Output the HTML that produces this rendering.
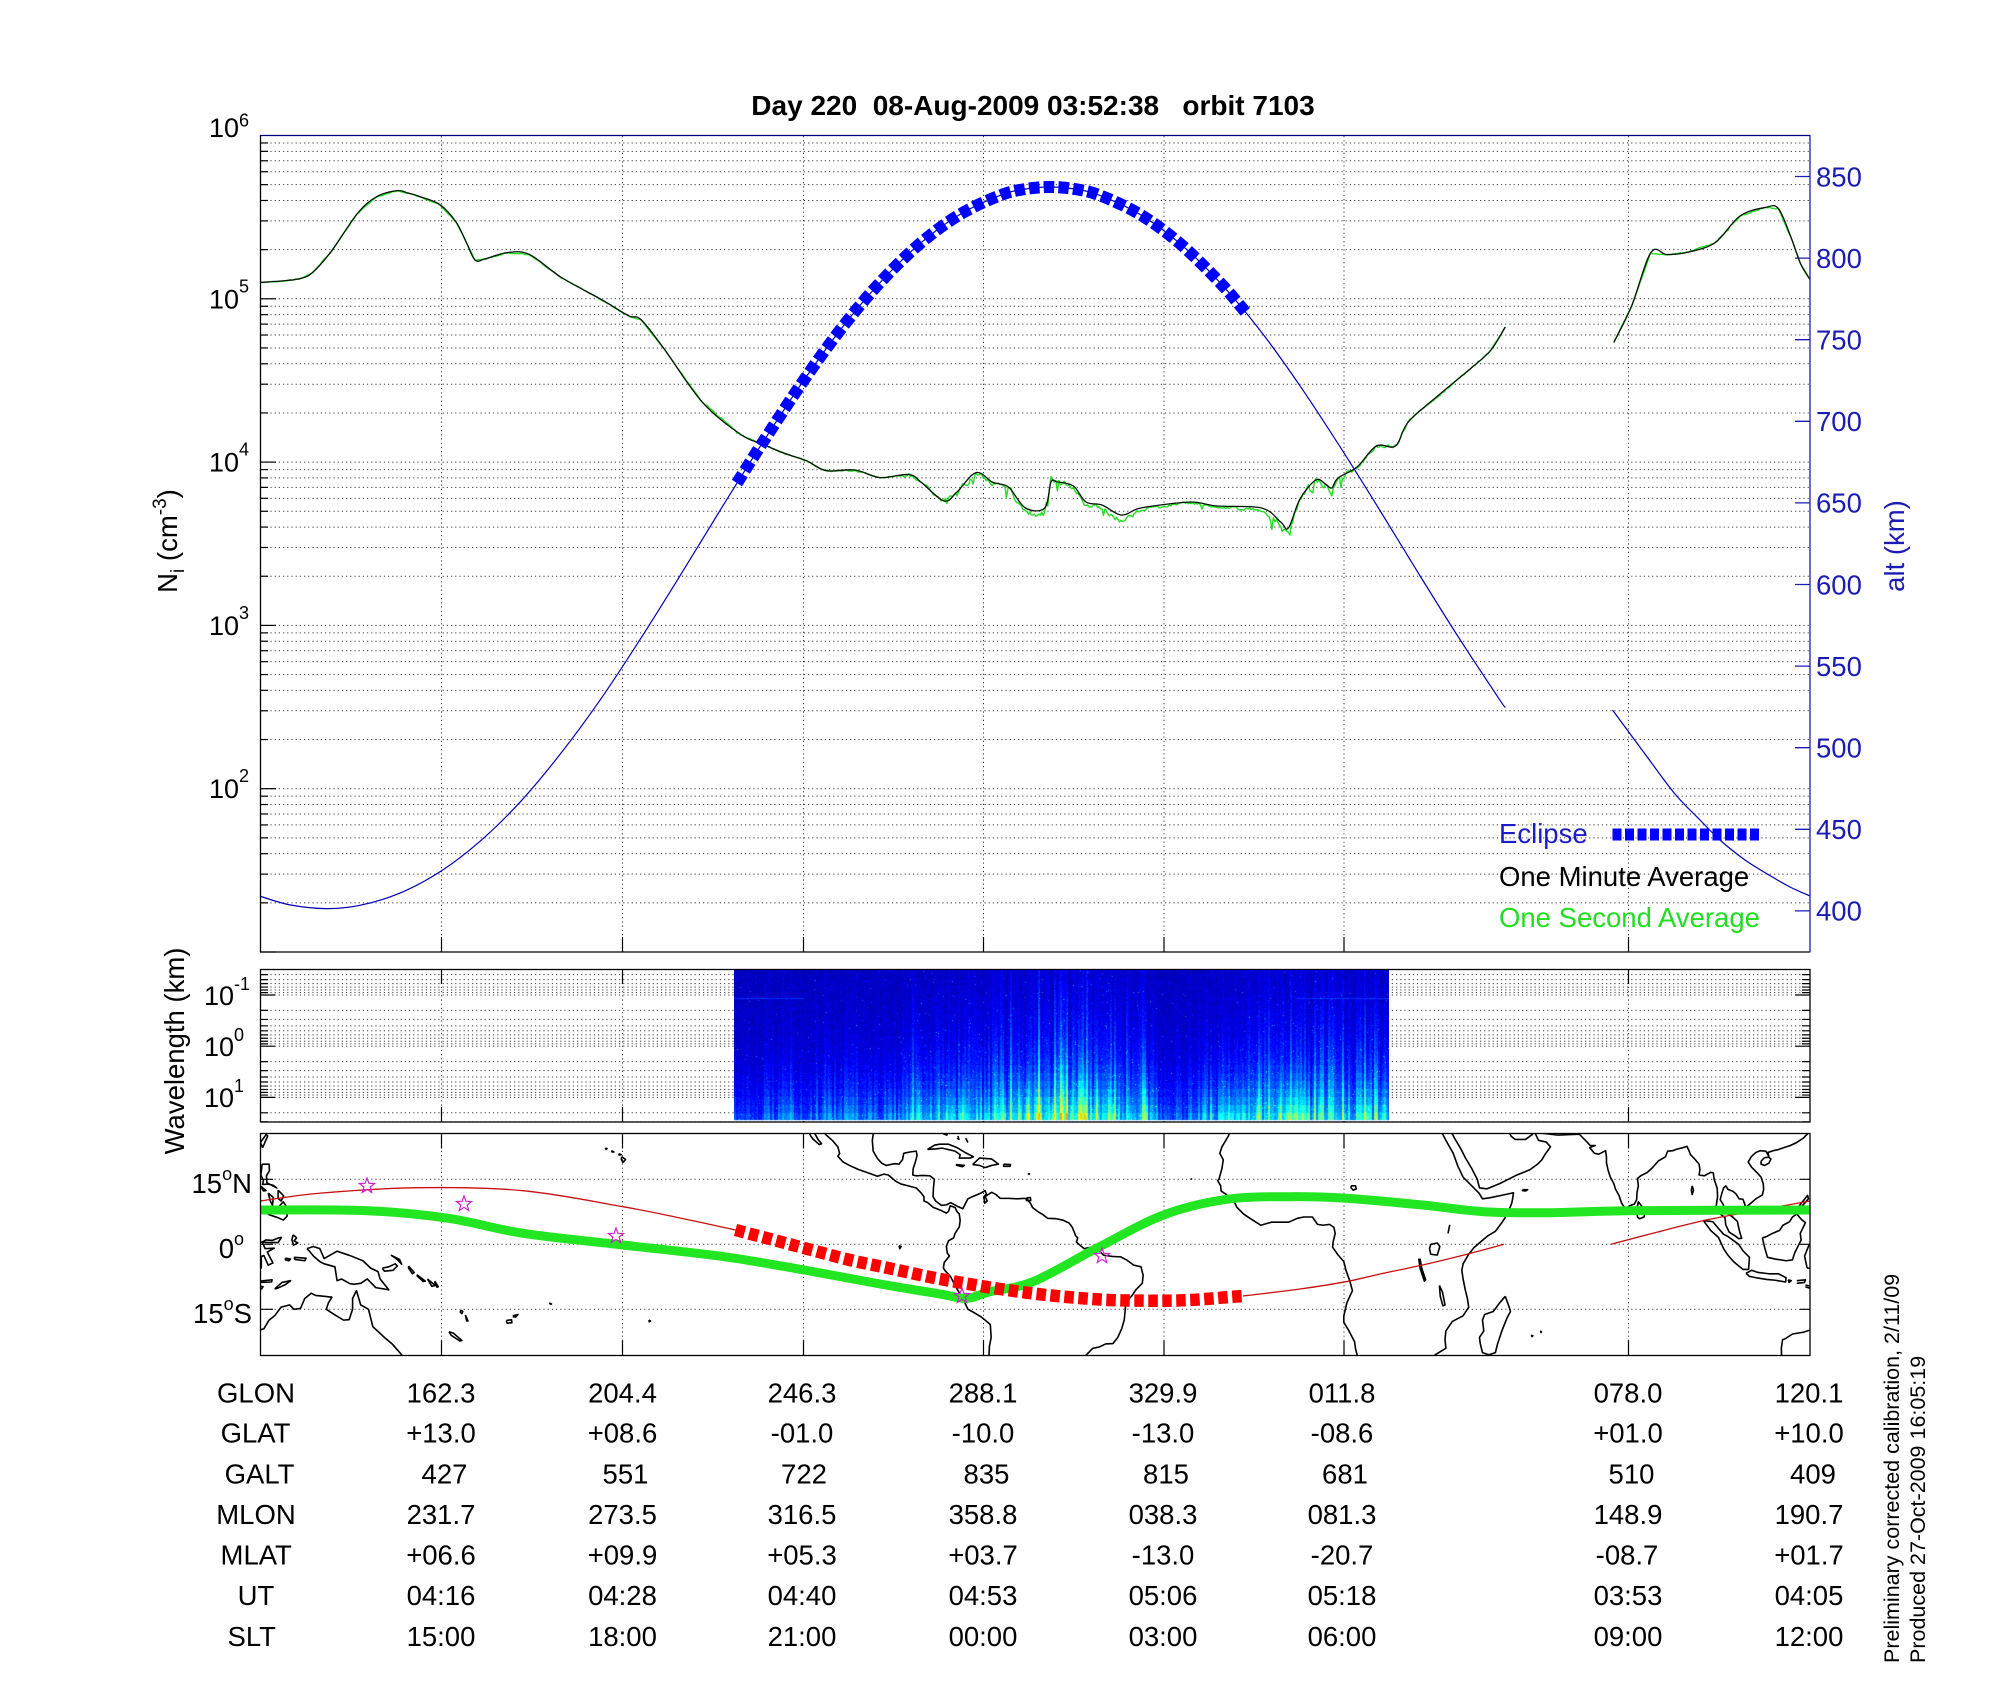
<!DOCTYPE html>
<html><head><meta charset="utf-8">
<style>
html,body{margin:0;padding:0;background:#fff;}
#wrap{position:relative;width:2000px;height:1700px;overflow:hidden;background:#fff;}
svg{position:absolute;left:0;top:0;}
#spec{position:absolute;left:734px;top:970px;width:655px;height:151px;}
text{font-family:"Liberation Sans",Arial,sans-serif;}
</style></head>
<body><div id="wrap">
<svg width="2000" height="1700" viewBox="0 0 2000 1700" xmlns="http://www.w3.org/2000/svg">
<defs>
 <clipPath id="cMain"><rect x="260" y="135" width="1550" height="817"/></clipPath>
 <clipPath id="cSpec"><rect x="260" y="969" width="1550" height="153"/></clipPath>
 <clipPath id="cMap"><rect x="260.5" y="1133.5" width="1549.5" height="222"/></clipPath>
 <linearGradient id="specg" x1="0" y1="0" x2="0" y2="1">
  <stop offset="0" stop-color="#0010a8"/><stop offset="0.55" stop-color="#0028c8"/>
  <stop offset="0.85" stop-color="#0a70e8"/><stop offset="1" stop-color="#40d0d0"/>
 </linearGradient>
 <g id="mdec" stroke="#3a3a3a" stroke-width="1" stroke-dasharray="1.2 3">
  <line x1="262" x2="1809" y1="0" y2="0"/><line x1="262" x2="1809" y1="-49.16" y2="-49.16"/>
  <line x1="262" x2="1809" y1="-77.91" y2="-77.91"/><line x1="262" x2="1809" y1="-98.32" y2="-98.32"/>
  <line x1="262" x2="1809" y1="-114.14" y2="-114.14"/><line x1="262" x2="1809" y1="-127.07" y2="-127.07"/>
  <line x1="262" x2="1809" y1="-138" y2="-138"/><line x1="262" x2="1809" y1="-147.47" y2="-147.47"/>
  <line x1="262" x2="1809" y1="-155.83" y2="-155.83"/>
 </g>
 <g id="mtick" stroke="#000" stroke-width="1.2">
  <line x1="260" x2="276" y1="0" y2="0"/><line x1="260" x2="268" y1="-49.16" y2="-49.16"/>
  <line x1="260" x2="268" y1="-77.91" y2="-77.91"/><line x1="260" x2="268" y1="-98.32" y2="-98.32"/>
  <line x1="260" x2="268" y1="-114.14" y2="-114.14"/><line x1="260" x2="268" y1="-127.07" y2="-127.07"/>
  <line x1="260" x2="268" y1="-138" y2="-138"/><line x1="260" x2="268" y1="-147.47" y2="-147.47"/>
  <line x1="260" x2="268" y1="-155.83" y2="-155.83"/>
 </g>
 <g id="sdec" stroke="#3a3a3a" stroke-width="1" stroke-dasharray="1.2 3">
  <line x1="262" x2="1809" y1="0" y2="0"/><line x1="262" x2="1809" y1="15.41" y2="15.41"/>
  <line x1="262" x2="1809" y1="24.43" y2="24.43"/><line x1="262" x2="1809" y1="30.83" y2="30.83"/>
  <line x1="262" x2="1809" y1="35.79" y2="35.79"/><line x1="262" x2="1809" y1="39.84" y2="39.84"/>
  <line x1="262" x2="1809" y1="43.27" y2="43.27"/><line x1="262" x2="1809" y1="46.22" y2="46.22"/>
  <line x1="262" x2="1809" y1="48.85" y2="48.85"/>
 </g>
 <g id="stick" stroke="#000" stroke-width="1.2">
  <path d="M260 0h15M1810 0h-15M260 15.41h8M1810 15.41h-8M260 24.43h8M1810 24.43h-8M260 30.83h8M1810 30.83h-8M260 35.79h8M1810 35.79h-8M260 39.84h8M1810 39.84h-8M260 43.27h8M1810 43.27h-8M260 46.22h8M1810 46.22h-8M260 48.85h8M1810 48.85h-8"/>
 </g>
 <polygon id="star" points="0,-8 1.94,-2.67 7.61,-2.47 3.14,1.02 4.7,6.47 0,3.3 -4.7,6.47 -3.14,1.02 -7.61,-2.47 -1.94,-2.67" fill="none" stroke="#d020d0" stroke-width="1.2"/>
 <g id="land" fill="none" stroke="#000" stroke-width="1.6" stroke-linejoin="round">
  <polyline vector-effect="non-scaling-stroke" points="113.5,-26.5 113.4,-24 113.7,-22 114.3,-21.8 116,-20.7 118.5,-20.3 121,-19.5 122.2,-17.5 123.5,-16.5 125,-14.5 127,-14 128,-15 129.5,-14.8 130.5,-12.5 132,-11.3 133,-11.8 135,-12 136.8,-12.2 136,-13.5 135.5,-15 137.5,-16.3 139.5,-17.5 140.8,-17.4 141.6,-15 141.6,-12.5 142.5,-10.7 143.5,-14 145.3,-15 146.3,-19 149,-21.5 150.8,-23 153,-25.5 153.3,-27"/>
  <polyline vector-effect="non-scaling-stroke" points="131,-1 132.5,-0.5 134,-1 135,-3.3 138,-1.6 141,-2.6 144,-3.8 145.8,-5.5 147.5,-6.3 148,-8 150,-10.5 147,-10 145,-8 143.5,-9 142,-9.2 141,-9.1 139,-8 138,-8.4 137.5,-5.2 135,-4.5 134,-4 132.5,-2.7 131.5,-1.5 131,-1"/>
  <polyline vector-effect="non-scaling-stroke" points="148.5,-5.5 150,-5.2 151.5,-4.5 152,-5 151,-6 149,-6.2 148.5,-5.5"/>
  <polyline vector-effect="non-scaling-stroke" points="150.5,-2.5 152.5,-3.5 153,-4.6 152,-3.5 150.5,-2.5"/>
  <polyline vector-effect="non-scaling-stroke" points="154.6,-5 155.9,-6.5 155.5,-6.8 154.6,-5.5 154.6,-5"/>
  <polyline vector-effect="non-scaling-stroke" points="159,-8 160.8,-9.5 160,-9.7 159,-8"/>
  <polyline vector-effect="non-scaling-stroke" points="160.7,-8.5 161.5,-9.8 161.2,-9.9 160.6,-8.6"/>
  <polyline vector-effect="non-scaling-stroke" points="156.5,-7 158.5,-8.5 158,-8.6 156.5,-7.2"/>
  <polyline vector-effect="non-scaling-stroke" points="166.8,-15.2 167.2,-15.5 167,-16 166.6,-15.6 166.8,-15.2"/>
  <polyline vector-effect="non-scaling-stroke" points="167.8,-16.3 168.4,-17.7 168.1,-17.7 167.8,-16.4"/>
  <polyline vector-effect="non-scaling-stroke" points="164,-20.2 165,-20.5 167,-22.2 166.5,-22.3 164.5,-21 164,-20.2"/>
  <polyline vector-effect="non-scaling-stroke" points="177.3,-17.6 178.5,-17.4 178.6,-18.1 177.5,-18.2 177.3,-17.6"/>
  <polyline vector-effect="non-scaling-stroke" points="178.8,-16.5 180,-16.2 179.5,-16.8 178.8,-16.7"/>
  <polyline vector-effect="non-scaling-stroke" points="-172.7,-13.5 -172.2,-13.8 -172.5,-13.8 -172.7,-13.5"/>
  <polyline vector-effect="non-scaling-stroke" points="-155.9,20.2 -155,19.6 -155.6,18.9 -156,19.6 -155.9,20.2"/>
  <polyline vector-effect="non-scaling-stroke" points="-156.6,20.9 -156,20.7 -156.5,20.6 -156.6,20.9"/>
  <polyline vector-effect="non-scaling-stroke" points="-158.3,21.6 -157.7,21.3 -158.1,21.3 -158.3,21.6"/>
  <polyline vector-effect="non-scaling-stroke" points="-159.7,22.2 -159.3,22.1 -159.5,21.9 -159.7,22.2"/>
  <polyline vector-effect="non-scaling-stroke" points="-149.6,-17.5 -149.2,-17.7 -149.5,-17.9 -149.6,-17.5"/>
  <polyline vector-effect="non-scaling-stroke" points="-91.5,-0.3 -91,-0.5 -91.3,-1 -91.5,-0.3"/>
  <polyline vector-effect="non-scaling-stroke" points="-112.8,26.5 -112,25 -111.5,24.3 -110,23 -109.5,23.2 -110.3,24.2 -111.2,25.8 -111.5,26.5"/>
  <polyline vector-effect="non-scaling-stroke" points="-109.5,26.5 -108.5,25.3 -107,24 -105.7,22.5 -105.3,21 -105.7,20.3 -104.5,19 -103,18.2 -101,17.3 -99,16.6 -96.5,15.7 -95,16.2 -94,16 -92.2,14.5 -91,13.9 -89,13.4 -87.5,13 -86.5,12 -85.7,11 -85.7,10 -85,9.7 -84.7,9.5 -83.5,8.5 -82.7,8.2 -81.5,7.7 -80.5,7.2 -80,7.6 -79.6,8.9 -78.5,8.5 -78,7.5 -77.5,7 -77.3,5.5 -77.5,4 -78.5,2.5 -78.8,1.5 -80,0.8 -80.5,-0.5 -80.3,-2 -79.8,-2.7 -81,-4.2 -81.2,-5.5 -80.7,-6.2 -79.5,-7.5 -78.5,-9.5 -77,-12 -76.2,-13.5 -75.5,-15 -74,-15.8 -72.5,-16.7 -71.5,-17.5 -70.3,-18.5 -70.2,-20 -70.1,-21.5 -70.5,-23.5 -70.6,-25.5 -70.8,-27"/>
  <polyline vector-effect="non-scaling-stroke" points="-97.3,26.5 -97.7,24 -97.5,21.5 -96.5,19.8 -95.5,18.7 -94.5,18.2 -92.5,18.6 -91.5,18.5 -90.7,19.5 -90.4,21 -89,21.3 -87.5,21.5 -87.3,20.5 -87.7,19 -88.2,17.5 -88.3,16 -87.5,15.8 -86,15.9 -84.3,15.8 -83.3,15 -83.5,13 -83.6,11 -83,10 -81.7,9 -80.5,9.1 -79.5,9.6 -77.8,8.7 -77.3,8.5 -76.7,8.2 -75.5,10.5 -74.2,11.1 -72.5,11.8 -71.5,12.4 -71.2,11.6 -71.8,11 -71.6,9.5 -71,10 -71.5,11 -70,12 -69,11.5 -68,10.6 -66,10.6 -64,10.5 -62.5,10.6 -61.8,10.5 -61,9.5 -60.5,8.5 -59.2,7.5 -58,6.8 -57,6 -55,5.9 -53.5,5.6 -52,4.9 -51.3,4 -51,3.3 -50.5,2 -50,1.5 -50.3,0.5 -49.5,-0.2 -48.5,-1 -47,-0.7 -45,-1.5 -44,-2.5 -42,-2.8 -40,-2.9 -38.5,-3.7 -37,-4.8 -35.3,-5.2 -34.8,-7.2 -35,-9 -36.5,-10.5 -37.5,-12 -38.8,-13.2 -39,-15.5 -39.2,-17.5 -39.8,-19.5 -40.7,-21.5 -41.8,-22.9 -43.5,-23 -45,-23.7 -46.5,-24 -48,-25.5 -48.6,-27"/>
  <polyline vector-effect="non-scaling-stroke" points="-81.9,26.5 -81.2,25.5 -80.4,25.2 -80.1,26 -80.05,26.5"/>
  <polyline vector-effect="non-scaling-stroke" points="-84.9,21.9 -83.2,22.9 -82,23.1 -80,23.1 -78,22.3 -76,21.1 -74.2,20.2 -75,19.9 -77.5,19.9 -77.3,20.7 -78.5,21.5 -81.5,22.2 -83,22 -84.9,21.9"/>
  <polyline vector-effect="non-scaling-stroke" points="-74.4,18.4 -72.8,19.9 -70,19.7 -68.4,18.5 -70,18.2 -71.5,17.7 -72.8,18.2 -74.4,18.4"/>
  <polyline vector-effect="non-scaling-stroke" points="-67.2,18.5 -65.6,18.4 -65.7,18 -67.2,18 -67.2,18.5"/>
  <polyline vector-effect="non-scaling-stroke" points="-78.3,18.4 -76.3,18.2 -76.8,17.9 -78,18.2 -78.3,18.4"/>
  <polyline vector-effect="non-scaling-stroke" points="-78,24.5 -77.6,24.2 -77.8,25"/>
  <polyline vector-effect="non-scaling-stroke" points="-76,24.5 -75.5,23.5"/>
  <polyline vector-effect="non-scaling-stroke" points="-61.6,16.2 -61.2,16.3 -61.4,16"/>
  <polyline vector-effect="non-scaling-stroke" points="-61.9,10.7 -61,10.8 -60.9,10.1 -61.9,10.1 -61.9,10.7"/>
  <polyline vector-effect="non-scaling-stroke" points="-14.5,26.5 -15,25 -16.5,22.5 -17,21 -16.2,19.5 -16.5,17.5 -17.2,15 -17.5,14.7 -16.8,13.5 -16.7,12.3 -15.5,11.5 -14.5,10.5 -13.5,9.5 -13,8.5 -11.5,7 -10,6 -7.5,4.4 -5,5.1 -3,5.1 -1,5.1 1,6 2.5,6.3 4.5,6.3 5.7,4.6 7,4.4 8.5,4.6 9.5,3.9 9.8,2.5 9.3,0.5 9.2,-0.7 10.5,-2.5 11.8,-4 12.3,-6 13.2,-8.5 13.8,-10.7 12.5,-13.5 11.8,-16.5 11.8,-18 13,-20 14.3,-22.5 14.5,-24 15,-26 15.3,-27"/>
  <polyline vector-effect="non-scaling-stroke" points="34.2,26.5 35.5,24 37.2,21 38.3,18 39.5,15.5 41.5,13.5 43.2,11.8 44,10.5 45.5,10.7 48,11.2 51.2,11.9 51,10.5 50.8,9.5 49.8,7 48.5,5 47,3 45.3,2 43.5,0.5 42,-0.8 40.8,-2.3 39.5,-4.5 39.2,-6 39.5,-8 40,-10.5 40.5,-12.5 40.8,-14.5 39.5,-16.5 37,-17.8 35.5,-20 35.3,-22 35.5,-24 33,-25.5 32.8,-26.5"/>
  <polyline vector-effect="non-scaling-stroke" points="49.3,-12 50.2,-14.5 50.5,-15.5 49.7,-17 48.5,-20 47.5,-23 47,-25 45.5,-25.5 44,-25 43.5,-23 43.3,-21.5 44.3,-20 44,-17.5 44.5,-16.2 46.5,-15.5 48,-13.5 49.3,-12"/>
  <polyline vector-effect="non-scaling-stroke" points="36.5,26.5 37.5,24.5 39,22 40,20 41.5,17.5 42.8,15 43.3,13 45,12.8 48,14 50,15 52,16 55,17.2 56.8,18.5 57.8,19.5 58.5,20.7 59.8,22.5 58.8,23.6 57,24 56.3,25.5 56.5,26.5"/>
  <polyline vector-effect="non-scaling-stroke" points="50,26.5 50.6,25 51.2,24.5 51.6,24.2 52.5,24.2 54,24.2 55.5,25.3 56,26.1 56.3,26.5"/>
  <polyline vector-effect="non-scaling-stroke" points="57.3,25.7 61.5,25.2 66.5,25.4 67.2,24.7 68.3,23.6 69,22.8 70.2,22.8 68.9,22.3 70,21 71,20.8 72.6,21.6 72.8,20 72.8,18.8 73.2,17 73.7,15.5 74.5,14 74.9,12.7 75.7,11.3 76.3,9.5 77.2,8.2 77.6,8.1 78.2,8.9 79.3,9.3 79.8,10.3 79.9,12 80.2,13.5 80,15.2 80.9,15.9 82.3,16.6 83.5,17.7 84.8,19.2 86.5,20.2 87,21.5 88.2,21.6 89,21.9 90.5,22.3 91.5,22.6 92,21.5 92.3,20.7 93,20 94.3,18.5 94.5,17.2 94.3,16 95.5,15.8 97,16.6 97.6,16.5 97.8,15 98.5,13 98.6,11 98.3,9 98.3,8 99.2,7 100.3,6.2 100.5,4.5 101.3,2.8 102.6,2 103.5,1.3 104.2,1.4 103.8,2.6 103.4,4.3 103.2,5.3 102.2,6.2 101.3,6.9 100.4,7.5 99.9,9.2 99.2,10.3 99.6,11.8 100,13 100.5,13.5 101,12.7 102.2,12.2 102.9,11.6 103.6,10.5 104.5,10.4 105,9 104.8,8.6 105.5,8.8 106.7,9.8 107.5,10.5 109,11.4 109.3,12.7 109.2,14 108.7,15.5 107.8,16.5 106.5,17.8 105.7,19 106.5,20.3 107.5,21.2 108.5,21.6 109.8,21.5 110.5,20.3 110.3,21.2 111.5,21.6 112.5,21.8 114,22.3 115.5,22.8 117,23.5 118.5,24.5 119.5,25.5 120,26.5"/>
  <polyline vector-effect="non-scaling-stroke" points="79.8,8 80.2,9.8 81,8.8 81.8,7.5 81.5,6.3 80.5,5.9 80,6.3 79.8,8"/>
  <polyline vector-effect="non-scaling-stroke" points="108.7,19.2 109.5,20 110.5,20.1 111,19.7 110.5,18.7 109.5,18.2 108.7,18.5 108.7,19.2"/>
  <polyline vector-effect="non-scaling-stroke" points="95.3,5.5 97.5,5.2 98.7,3.8 100,2.3 101,1.8 103.5,0 104.5,-1.5 106,-3 105.8,-5.8 104.5,-5.8 102.3,-4 101,-2.5 100,-1 98.8,1.6 97,3.2 95.3,5.5"/>
  <polyline vector-effect="non-scaling-stroke" points="105.2,-6.7 106.5,-6 108,-6.5 110.5,-6.8 112.7,-6.8 114.5,-7.7 114.4,-8.7 112,-8.3 110,-8.1 108,-7.8 106,-7.4 105.2,-6.7"/>
  <polyline vector-effect="non-scaling-stroke" points="115,-8.2 115.7,-8.4 115.2,-8.8 115,-8.2"/>
  <polyline vector-effect="non-scaling-stroke" points="117,-8.4 119,-8.2 118.8,-8.8 117,-9"/>
  <polyline vector-effect="non-scaling-stroke" points="119.9,-8.5 122.9,-8.2 122.8,-8.7 119.9,-8.8"/>
  <polyline vector-effect="non-scaling-stroke" points="119,-9.4 120.8,-9.8 120.5,-10.3 119,-9.8"/>
  <polyline vector-effect="non-scaling-stroke" points="123.5,-10.3 125.2,-8.8 127.2,-8.4 126,-9.3 124,-10.2 123.5,-10.3"/>
  <polyline vector-effect="non-scaling-stroke" points="109,1.5 109.6,-1 110.2,-3 112,-3.4 114.5,-3.8 116,-3.6 116.5,-2 117.5,0 118,1 117.8,2.5 119,5 118,5.8 117,7 116,6.3 115.3,5.2 113.8,4.4 113,3.2 111.3,2.5 109.8,1.7 109,1.5"/>
  <polyline vector-effect="non-scaling-stroke" points="119.4,-5.5 120.4,-5.5 120.4,-2.8 121,-2.6 122,-4.8 123.1,-4.3 121.8,-1.8 123.4,-0.9 121.3,-1 120.6,0.5 121.5,1 123,0.9 124.5,1.5 125.1,1.6 124.3,0.4 122,0.4 120.3,0.5 119.7,-0.5 118.8,-2.7 119.4,-5.5"/>
  <polyline vector-effect="non-scaling-stroke" points="127.8,2.2 128.6,1.5 128,0.8 128.9,0.3 127.9,-0.2 127.5,1 127.8,2.2"/>
  <polyline vector-effect="non-scaling-stroke" points="128,-3 130.8,-3.2 130.5,-3.8 128.2,-3.5 128,-3"/>
  <polyline vector-effect="non-scaling-stroke" points="126,-3.2 127.2,-3.4 126.8,-3.8 126,-3.6 126,-3.2"/>
  <polyline vector-effect="non-scaling-stroke" points="117.2,8.4 119.5,11.3 119.7,10.5 117.5,8 117.2,8.4"/>
  <polyline vector-effect="non-scaling-stroke" points="120.7,22.3 121.9,25 121.5,25.3 120.2,23.5 120.7,22.3"/>
  <polyline vector-effect="non-scaling-stroke" points="120.6,18.5 122.2,18.5 122.3,17 121.6,15.8 121.7,14.2 124,13 123.2,13.6 122,13.9 120.7,13.8 120.9,14.7 120.3,16 120.6,18.5"/>
  <polyline vector-effect="non-scaling-stroke" points="120.3,13.4 121.5,12.4 120.9,12.3 120.3,13.4"/>
  <polyline vector-effect="non-scaling-stroke" points="124.3,12.5 125.6,11.2 125,10 124.3,10.6 124.3,12.5"/>
  <polyline vector-effect="non-scaling-stroke" points="122,11.8 123.2,10.8 123,9 122.5,10 122,11.8"/>
  <polyline vector-effect="non-scaling-stroke" points="122,7 123.3,8.2 124.3,8.5 125.5,9.8 126.4,8.5 126.4,6.5 125.5,5.6 124.1,6.2 122,6.9 122,7"/>
  <polyline vector-effect="non-scaling-stroke" points="92.7,13.5 93,12.5 92.7,11.5 92.5,12.5 92.7,13.5"/>
  <polyline vector-effect="non-scaling-stroke" points="53.3,12.6 54.5,12.6 54,12.3 53.3,12.4 53.3,12.6"/>
  <polyline vector-effect="non-scaling-stroke" points="13.5,13.5 14.5,13.5 14.7,12.8 14,12.5 13.5,13 13.5,13.5"/>
  <polyline vector-effect="non-scaling-stroke" points="32,0 33.5,0.3 34.1,-0.5 33.5,-2.5 32,-2.3 31.7,-1 32,0"/>
  <polyline vector-effect="non-scaling-stroke" points="29.2,-3.3 29.5,-5.5 30.5,-8.5 30.8,-8.2 29.9,-5.5 29.5,-3.3"/>
  <polyline vector-effect="non-scaling-stroke" points="34,-9.5 34.7,-11 35.3,-14 34.8,-14.2 34.2,-12 34,-9.5"/>
  <polyline vector-effect="non-scaling-stroke" points="36,2.5 36.4,4.5"/>
  <polyline vector-effect="non-scaling-stroke" points="55.3,-21 55.7,-21.1 55.5,-21.3 55.3,-21"/>
  <polyline vector-effect="non-scaling-stroke" points="57.4,-20 57.7,-20.2 57.5,-20.5"/>
  <polyline vector-effect="non-scaling-stroke" points="-23.7,15.2 -23.5,14.9"/>
 </g>
</defs>

<!-- ================= MAIN PANEL ================= -->
<g>
 <use href="#mdec" y="952"/><use href="#mdec" y="788.7"/><use href="#mdec" y="625.4"/>
 <use href="#mdec" y="462.1"/><use href="#mdec" y="298.8"/>
 <g stroke="#3a3a3a" stroke-width="1" stroke-dasharray="1.2 3">
  <line x1="441.5" x2="441.5" y1="136" y2="951"/><line x1="622.5" x2="622.5" y1="136" y2="951"/>
  <line x1="803.5" x2="803.5" y1="136" y2="951"/><line x1="983.5" x2="983.5" y1="136" y2="951"/>
  <line x1="1164" x2="1164" y1="136" y2="951"/><line x1="1344" x2="1344" y1="136" y2="951"/>
  <line x1="1628.5" x2="1628.5" y1="136" y2="951"/>
 </g>
 <use href="#mtick" y="952"/><use href="#mtick" y="788.7"/><use href="#mtick" y="625.4"/>
 <use href="#mtick" y="462.1"/><use href="#mtick" y="298.8"/>
 <path d="M441.5 952v-15M622.5 952v-15M803.5 952v-15M983.5 952v-15M1164 952v-15M1344 952v-15M1628.5 952v-15" stroke="#000" stroke-width="1.2"/>
 <path d="M1810 910.9h-15M1810 829.3h-15M1810 747.7h-15M1810 666.1h-15M1810 584.5h-15M1810 502.9h-15M1810 421.3h-15M1810 339.7h-15M1810 258.1h-15M1810 176.5h-15" stroke="#1c1cb4" stroke-width="1.3"/>

 <g clip-path="url(#cMain)" fill="none" stroke-linejoin="round">
  <path id="g1" stroke="#22dd22" stroke-width="2" d="M260 282.4 L281 281 L300 278.6 L312.6 272.5 L331.8 250.7 L357 214 L376 197 L397 190.6 L408 193 L421 197 L440 204.7 L456 222 L465.7 241 L475 260 L485 259 L507 252.6 L529.5 254.5 L561.4 277.5 L603 300.4 L628.4 315.7 L641 319.6 L663.5 348 L702 401.8 L740 434 L762 444 L785 453.5 L807 461 L826 470.7 L855 470 L880 477.6 L909 474.5 L922 483 L944 501 L957 492 L976 472.6 L992 482 L1000 484 L1009.6 488 L1025.5 512.8 L1044.7 512.8 L1051 476.5 L1057.4 480 L1073.4 486 L1086 505 L1102 507 L1121 520.5 L1137 511 L1153 507 L1191.4 502 L1217 507 L1261.6 509 L1280.7 524 L1288.4 532 L1300 497.5 L1315.8 478 L1325.4 484 L1331.8 491.8 L1338 476.5 L1357 467 L1376.4 445.8 L1395.6 445.8 L1408.3 421 L1440 394 L1472 367.4 L1491 350 L1505.3 327"/>
  <path id="g2" stroke="#22dd22" stroke-width="2" d="M1613.8 342.5 L1631.6 306 L1650.8 252.6 L1666.7 254.5 L1685.9 252.6 L1714.6 243 L1740 216 L1765.6 207.4 L1778.4 208.6 L1791 237.3 L1800.7 264 L1810 279.4"/>
  <path id="d1" class="sm" stroke="#061206" stroke-width="1.3" d="M260 282.4 L281 281 L300 278.6 L312.6 272.5 L331.8 250.7 L357 214 L376 197 L397 190.6 L408 193 L421 197 L440 204.7 L456 222 L465.7 241 L475 260 L485 259 L507 252.6 L529.5 254.5 L561.4 277.5 L603 300.4 L628.4 315.7 L641 319.6 L663.5 348 L702 401.8 L740 434 L762 444 L785 453.5 L807 461 L826 470.7 L855 470 L880 477.6 L909 474.5 L922 483 L944 501 L957 492 L976 472.6 L992 482 L1000 484 L1009.6 488 L1025.5 508 L1044.7 508 L1051 482 L1057.4 482 L1073.4 486 L1086 502 L1102 505 L1121 515 L1137 509 L1153 506 L1191.4 502 L1217 506 L1261.6 508 L1280.7 522 L1288.4 528 L1300 499 L1315.8 480 L1325.4 484 L1331.8 488 L1338 478 L1357 467 L1376.4 446 L1395.6 446 L1408.3 422 L1440 394 L1472 367.4 L1491 350 L1505.3 327"/>
  <path id="d2" class="sm" stroke="#061206" stroke-width="1.3" d="M1613.8 342.5 L1631.6 306 L1650.8 252.6 L1666.7 254.5 L1685.9 252.6 L1714.6 243 L1740 216 L1765.6 207.4 L1778.4 208.6 L1791 237.3 L1800.7 264 L1810 279.4"/>
  <path id="a1" class="sm" stroke="#0000b8" stroke-width="1.2" d="M260 896.2 L290 904.9 L326 908.6 L360 905.3 L400 893.1 L441 871.1 L480 841.3 L520 802.2 L560 754.4 L600 700.2 L640 639.6 L680 575.8 L720 510.5 L760 446.7 L800 385.8 L840 330.2 L880 282.6 L920 243.6 L960 214.4 L1000 195.4 L1025 189.1 L1050 187 L1075 189.1 L1100 195.4 L1140 214.4 L1180 243.6 L1220 282.6 L1260 330.2 L1300 385.8 L1340 446.7 L1380 510.5 L1420 575.8 L1460 639.6 L1500 700.2 L1505 707"/>
  <path id="a2" class="sm" stroke="#0000b8" stroke-width="1.2" d="M1612.5 710 L1645 754 L1675 794 L1700 820 L1720 840 L1745 860 L1769 875 L1790 887 L1810 896"/>
  <path id="ecl" class="sm" stroke="#0000ff" stroke-width="12" stroke-dasharray="10.5 4.2" d="M737 483 L760 446.7 L800 385.8 L840 330.2 L880 282.6 L920 243.6 L960 214.4 L1000 195.4 L1025 189.1 L1050 187 L1075 189.1 L1100 195.4 L1140 214.4 L1180 243.6 L1220 282.6 L1246 312.7"/>
 </g>
 <line x1="260.5" y1="135" x2="260.5" y2="952.5" stroke="#000" stroke-width="1.3"/>
 <line x1="260" y1="952" x2="1810" y2="952" stroke="#000" stroke-width="1.3"/>
 <line x1="260" y1="135.5" x2="1810.5" y2="135.5" stroke="#000080" stroke-width="1.3"/>
 <line x1="1810" y1="135" x2="1810" y2="952.5" stroke="#1c1cb4" stroke-width="1.3"/>

 <text x="1499" y="843" font-size="27.5" fill="#1c1cc8">Eclipse</text>
 <line x1="1612.5" y1="834.5" x2="1762" y2="834.5" stroke="#0000ff" stroke-width="12" stroke-dasharray="9 3.5"/>
 <text x="1499" y="886" font-size="27.5" fill="#000">One Minute Average</text>
 <text x="1499" y="927" font-size="27.5" fill="#22dd22">One Second Average</text>

 <text x="1033" y="115" font-size="28" font-weight="bold" text-anchor="middle" style="white-space:pre">Day 220  08-Aug-2009 03:52:38   orbit 7103</text>

 <g font-size="27" fill="#000">
  <text x="209" y="137">10<tspan font-size="18" dy="-10.5">6</tspan></text>
  <text x="209" y="308.5">10<tspan font-size="18" dy="-16">5</tspan></text>
  <text x="209" y="471.5">10<tspan font-size="18" dy="-16">4</tspan></text>
  <text x="209" y="635">10<tspan font-size="18" dy="-16">3</tspan></text>
  <text x="209" y="798">10<tspan font-size="18" dy="-16">2</tspan></text>
 </g>
 <text transform="translate(177,541) rotate(-90)" font-size="27.5" text-anchor="middle">N<tspan font-size="19" dy="7">i</tspan><tspan dy="-7"> (cm</tspan><tspan font-size="19" dy="-11">-3</tspan><tspan dy="11">)</tspan></text>
 <g font-size="27.5" fill="#1c1cb4">
  <text x="1816" y="920.5">400</text><text x="1816" y="839">450</text><text x="1816" y="757.5">500</text>
  <text x="1816" y="676">550</text><text x="1816" y="594.5">600</text><text x="1816" y="512.5">650</text>
  <text x="1816" y="431">700</text><text x="1816" y="349.5">750</text><text x="1816" y="268">800</text>
  <text x="1816" y="186.5">850</text>
 </g>
 <text transform="translate(1904,546) rotate(-90)" font-size="27.5" fill="#1c1cb4" text-anchor="middle">alt (km)</text>
</g>

<!-- ================= SPECTROGRAM PANEL ================= -->
<g>
 <g clip-path="url(#cSpec)">
  <use href="#sdec" y="943.8"/><use href="#sdec" y="995"/><use href="#sdec" y="1046.2"/><use href="#sdec" y="1097.4"/>
  <g stroke="#3a3a3a" stroke-width="1" stroke-dasharray="1.2 3">
   <line x1="441.5" x2="441.5" y1="970" y2="1121"/><line x1="622.5" x2="622.5" y1="970" y2="1121"/>
   <line x1="1628.5" x2="1628.5" y1="970" y2="1121"/><line x1="1344" x2="1344" y1="970" y2="1121"/>
  </g>
  <use href="#stick" y="943.8"/><use href="#stick" y="995"/><use href="#stick" y="1046.2"/><use href="#stick" y="1097.4"/>
 </g>
 <rect x="734" y="970" width="655" height="151" fill="url(#specg)"/>
 <path d="M441.5 969v15M622.5 969v15M803.5 969v15M983.5 969v15M1164 969v15M1344 969v15M1628.5 969v15M441.5 1122v-15M622.5 1122v-15M803.5 1122v-15M983.5 1122v-15M1164 1122v-15M1344 1122v-15M1628.5 1122v-15" stroke="#000" stroke-width="1.2"/>
 <rect x="260.5" y="969.5" width="1549.5" height="152.5" fill="none" stroke="#000" stroke-width="1.3"/>
 <g font-size="27" fill="#000">
  <text x="204" y="1005">10<tspan font-size="18" dy="-15">-1</tspan></text>
  <text x="204" y="1056">10<tspan font-size="18" dy="-15">0</tspan></text>
  <text x="204" y="1107">10<tspan font-size="18" dy="-15">1</tspan></text>
 </g>
 <text transform="translate(184,1051) rotate(-90)" font-size="27.5" text-anchor="middle">Wavelength (km)</text>
</g>

<!-- ================= MAP PANEL ================= -->
<g>
 <g stroke="#3a3a3a" stroke-width="1" stroke-dasharray="1.2 3">
  <line x1="262" x2="1809" y1="1179.3" y2="1179.3"/><line x1="262" x2="1809" y1="1244.3" y2="1244.3"/>
  <line x1="262" x2="1809" y1="1309.3" y2="1309.3"/>
  <line x1="441.5" x2="441.5" y1="1134" y2="1355"/><line x1="622.5" x2="622.5" y1="1134" y2="1355"/>
  <line x1="803.5" x2="803.5" y1="1134" y2="1355"/><line x1="983.5" x2="983.5" y1="1134" y2="1355"/>
  <line x1="1164" x2="1164" y1="1134" y2="1355"/><line x1="1344" x2="1344" y1="1134" y2="1355"/>
  <line x1="1628.5" x2="1628.5" y1="1134" y2="1355"/>
 </g>
 <g clip-path="url(#cMap)">
  <g transform="translate(260,1244.3) scale(4.306,-4.333) translate(-120.1,0)">
   <use href="#land"/>
   <use href="#land" x="360"/>
  </g>
  <g fill="none" stroke-linejoin="round">
   <path class="sm" stroke="#c81010" stroke-width="1.3" d="M260 1201 L322 1193 L420 1187.7 L523 1190.7 L623 1206.7 L680 1218 L735.5 1230"/>
   <path class="sm" stroke="#c81010" stroke-width="1.3" d="M1243 1296 L1300 1289 L1346 1281.7 L1380 1274 L1422.6 1265 L1460 1256 L1504 1244.3"/>
   <path class="sm" stroke="#c81010" stroke-width="1.3" d="M1611 1244.3 L1650 1234 L1703 1220.7 L1760 1210 L1810 1201"/>
   <path class="sm" stroke="#22e622" stroke-width="9" stroke-linecap="round" d="M260 1210 L368 1210.7 L448.5 1218.3 L523 1233.3 L623 1245 L724 1256.7 L804 1270 L880 1284 L940 1294 L966.7 1298.3 L990 1291.7 L1033 1281.7 L1096.7 1248.3 L1163.5 1215 L1226.7 1199.3 L1290 1196.7 L1346 1198.3 L1422.6 1205 L1484 1211.7 L1550 1212.7 L1626.7 1210.7 L1810 1210"/>
   <path class="sm" stroke="#ff0000" stroke-width="12.5" stroke-dasharray="9.5 4.5" d="M735.5 1230 L770 1239 L804 1248 L850 1260 L888 1268 L930 1277 L963 1283 L1000 1289 L1046.7 1295 L1100 1299.5 L1146.7 1300.7 L1190 1300 L1233 1296.7 L1243 1296"/>
  </g>
  <use href="#star" x="367" y="1186"/><use href="#star" x="464" y="1204"/><use href="#star" x="616" y="1236"/>
  <use href="#star" x="962" y="1296"/><use href="#star" x="1102" y="1256"/>
 </g>
 <path d="M260 1179.3h13M260 1244.3h13M260 1309.3h13M1810 1179.3h-10M1810 1244.3h-10M1810 1309.3h-10M441.5 1133.5v15M622.5 1133.5v15M803.5 1133.5v15M983.5 1133.5v15M1164 1133.5v15M1344 1133.5v15M1628.5 1133.5v15M441.5 1355.5v-15M622.5 1355.5v-15M803.5 1355.5v-15M983.5 1355.5v-15M1164 1355.5v-15M1344 1355.5v-15M1628.5 1355.5v-15" stroke="#000" stroke-width="1.2"/>
 <rect x="260.5" y="1133.5" width="1549.5" height="222" fill="none" stroke="#000" stroke-width="1.3"/>
 <g font-size="27.5" fill="#000" text-anchor="end">
  <text x="252" y="1193">15<tspan font-size="18" dy="-13">o</tspan><tspan dy="13">N</tspan></text>
  <text x="244" y="1258">0<tspan font-size="18" dy="-13">o</tspan></text>
  <text x="252" y="1323">15<tspan font-size="18" dy="-13">o</tspan><tspan dy="13">S</tspan></text>
 </g>
</g>

<!-- ================= TABLE ================= -->
<g font-size="27.5" fill="#000" text-anchor="middle">
 <text x="256" y="1402.3">GLON</text><text x="255.5" y="1442.3">GLAT</text><text x="259.5" y="1483.3">GALT</text>
 <text x="256" y="1524">MLON</text><text x="256.2" y="1564.3">MLAT</text><text x="256" y="1605">UT</text><text x="251.7" y="1646">SLT</text>

 <text x="441" y="1402.3">162.3</text><text x="622.5" y="1402.3">204.4</text><text x="802" y="1402.3">246.3</text><text x="983" y="1402.3">288.1</text><text x="1163" y="1402.3">329.9</text><text x="1342" y="1402.3">011.8</text><text x="1628" y="1402.3">078.0</text><text x="1809" y="1402.3">120.1</text>

 <text x="441" y="1442.3">+13.0</text><text x="622.5" y="1442.3">+08.6</text><text x="802" y="1442.3">-01.0</text><text x="983" y="1442.3">-10.0</text><text x="1163" y="1442.3">-13.0</text><text x="1342" y="1442.3">-08.6</text><text x="1628" y="1442.3">+01.0</text><text x="1809" y="1442.3">+10.0</text>

 <text x="444.5" y="1483.3">427</text><text x="625.5" y="1483.3">551</text><text x="804" y="1483.3">722</text><text x="986.5" y="1483.3">835</text><text x="1166" y="1483.3">815</text><text x="1345" y="1483.3">681</text><text x="1631.5" y="1483.3">510</text><text x="1813" y="1483.3">409</text>

 <text x="441" y="1524">231.7</text><text x="622.5" y="1524">273.5</text><text x="802" y="1524">316.5</text><text x="983" y="1524">358.8</text><text x="1163" y="1524">038.3</text><text x="1342" y="1524">081.3</text><text x="1628" y="1524">148.9</text><text x="1809" y="1524">190.7</text>

 <text x="441" y="1564.3">+06.6</text><text x="622.5" y="1564.3">+09.9</text><text x="802" y="1564.3">+05.3</text><text x="983" y="1564.3">+03.7</text><text x="1163" y="1564.3">-13.0</text><text x="1342" y="1564.3">-20.7</text><text x="1627" y="1564.3">-08.7</text><text x="1809" y="1564.3">+01.7</text>

 <text x="441" y="1605">04:16</text><text x="622.5" y="1605">04:28</text><text x="802" y="1605">04:40</text><text x="983" y="1605">04:53</text><text x="1163" y="1605">05:06</text><text x="1342" y="1605">05:18</text><text x="1628" y="1605">03:53</text><text x="1809" y="1605">04:05</text>

 <text x="441" y="1646">15:00</text><text x="622.5" y="1646">18:00</text><text x="802" y="1646">21:00</text><text x="983" y="1646">00:00</text><text x="1163" y="1646">03:00</text><text x="1342" y="1646">06:00</text><text x="1628" y="1646">09:00</text><text x="1809" y="1646">12:00</text>
</g>
<text transform="translate(1899,1663) rotate(-90)" font-size="21.5" fill="#000">Preliminary corrected calibration, 2/11/09</text>
<text transform="translate(1925,1663) rotate(-90)" font-size="21.5" fill="#000">Produced 27-Oct-2009 16:05:19</text>
</svg>
<canvas id="spec" width="655" height="151"></canvas>
</div>
<script>
(function(){
 var s=987654321; function R(){ s=(Math.imul(s,1664525)+1013904223)>>>0; return s/4294967296; }
 function parse(d){ var n=d.match(/-?[\d.]+/g).map(Number), p=[]; for(var i=0;i+1<n.length;i+=2)p.push([n[i],n[i+1]]); return p; }
 function smooth(p){ var o='M'+p[0][0]+' '+p[0][1]; for(var i=0;i<p.length-1;i++){ var p0=p[i-1]||p[i],p1=p[i],p2=p[i+1],p3=p[i+2]||p2;
   var c1x=p1[0]+(p2[0]-p0[0])/6,c1y=p1[1]+(p2[1]-p0[1])/6,c2x=p2[0]-(p3[0]-p1[0])/6,c2y=p2[1]-(p3[1]-p1[1])/6;
   o+=' C'+c1x.toFixed(2)+' '+c1y.toFixed(2)+' '+c2x.toFixed(2)+' '+c2y.toFixed(2)+' '+p2[0]+' '+p2[1]; } return o; }
 try{
  var els=document.querySelectorAll('path.sm');
  for(var k=0;k<els.length;k++){ els[k].setAttribute('d',smooth(parse(els[k].getAttribute('d')))); }
  function amp(x){ if(x<700)return 0.7; if(x<900)return 1.2; if(x<960)return 3; if(x<1000)return 4; if(x<1060)return 5; if(x<1140)return 4; if(x<1270)return 2.5; if(x<1345)return 5; if(x<1410)return 3; if(x<1510)return 1.5; return 0.9; }
  function noisy(id){ var el=document.getElementById(id); var p=parse(el.getAttribute('d')); var out=[],prev=0;
   for(var i=0;i<p.length-1;i++){ var x0=p[i][0],y0=p[i][1],x1=p[i+1][0],y1=p[i+1][1]; var n=Math.max(1,Math.round((x1-x0)/1.5));
    for(var t=0;t<n;t++){ var x=x0+(x1-x0)*t/n,y=y0+(y1-y0)*t/n,a=amp(x); var e=(R()-0.5)*2*a; prev=0.45*prev+0.55*e; var dy=prev+0.25*a;
     if(R()<0.015*a) dy+=R()*a*2.2; out.push(x.toFixed(1)+' '+(y+dy).toFixed(1)); } }
   out.push(p[p.length-1][0]+' '+p[p.length-1][1]);
   el.setAttribute('d','M'+out.join(' L')); el.setAttribute('stroke-width','1.4'); }
  noisy('g1'); noisy('g2');
 }catch(e){}
 try{
  var cv=document.getElementById('spec'); var W=cv.width,H=cv.height; var ctx=cv.getContext('2d'); var im=ctx.createImageData(W,H); var D=im.data;
  var AP=[[0,0.3],[26,0.35],[166,0.38],[181,0.6],[256,0.7],[286,0.85],[326,1.0],[346,0.92],[376,0.8],[416,0.65],[426,0.35],[461,0.35],[471,0.6],[506,0.55],[531,0.75],[596,0.75],[655,0.65]];
  function act(i){ for(var k=0;k<AP.length-1;k++){ if(i<=AP[k+1][0]){ var t=(i-AP[k][0])/(AP[k+1][0]-AP[k][0]); return AP[k][1]+t*(AP[k+1][1]-AP[k][1]); } } return 0.6; }
  function cl(v){ return v<0?0:(v>1?1:v); }
  function jet(v){ v=cl(v); return [255*cl(1.5-Math.abs(4*v-3)),255*cl(1.5-Math.abs(4*v-2)),255*cl(1.5-Math.abs(4*v-1))]; }
  var m=1,h=30;
  for(var i=0;i<W;i++){
   var a=act(i);
   if(i%2===0){ m=0.35+0.65*Math.pow(R(),1.2); h=25+55*a*R(); }
   for(var j=0;j<H;j++){
    var d=H-1-j; var dq=d<60?Math.floor(d/8)*8+3:d;
    var v=0.03+0.06*R();
    v+=a*m*Math.exp(-dq/h)*0.7;
    v+=0.06*a*m*Math.exp(-d/110);
    if(R()<0.06*a*Math.exp(-d/90)) v+=0.18*R();
    if(v>0.72) v=0.72;
    if(j===28&&(i<70||i>560)) v=Math.max(v,0.15+0.05*R());
    var c=jet(v); if(j===H-1){c=[230,238,255];}
    var o=(j*W+i)*4; D[o]=c[0];D[o+1]=c[1];D[o+2]=c[2];D[o+3]=255;
   }
  }
  ctx.putImageData(im,0,0);
 }catch(e){}
})();
</script>
</body></html>
